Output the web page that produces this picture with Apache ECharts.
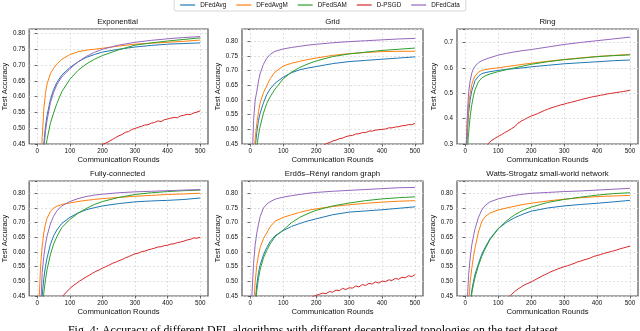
<!DOCTYPE html>
<html><head><meta charset="utf-8">
<script src="https://cdn.jsdelivr.net/npm/echarts@6/dist/echarts.min.js"></script>
<style>html,body{margin:0;padding:0;background:#fff}#c{width:640px;height:331px}</style>
</head><body><div id="c"></div><script>
const methods = ['DFedAvg','DFedAvgM','DFedSAM','D-PSGD','DFedCata'];
const colors = ['#1f77b4','#ff7f0e','#2ca02c','#d62728','#9467bd'];
const topologies = ['Exponential','Grid','Ring','Fully-connected','Erdős–Rényi random graph','Watts-Strogatz small-world network'];
const xTickValues = [0,100,200,300,400,500];
const rounds = [0,5,10,15,20,25,30,40,50,60,75,100,125,150,175,200,250,300,350,400,450,500];
const redRounds = [0,10,20,30,40,50,60,70,80,90,100,110,120,130,140,150,160,170,180,190,200,210,220,230,240,250,260,270,280,290,300,310,320,330,340,350,360,370,380,390,400,410,420,430,440,450,460,470,480,490,500];

// Exponential
const expAvg  = [0.10,0.20,0.30,0.39,0.45,0.505,0.54,0.59,0.622,0.645,0.668,0.692,0.71,0.724,0.733,0.741,0.750,0.757,0.762,0.766,0.768,0.770];
const expAvgM = [0.10,0.22,0.36,0.47,0.56,0.61,0.64,0.672,0.69,0.703,0.718,0.733,0.742,0.747,0.750,0.753,0.760,0.766,0.769,0.772,0.775,0.779];
const expSAM  = [0.10,0.16,0.23,0.31,0.38,0.43,0.465,0.515,0.548,0.578,0.615,0.655,0.683,0.703,0.718,0.730,0.748,0.763,0.770,0.776,0.781,0.786];
const expPSGD = [0.10,0.14,0.18,0.21,0.24,0.26,0.28,0.30,0.32,0.335,0.35,0.362,0.375,0.387,0.398,0.408,0.417,0.426,0.434,0.442,0.449,0.453,0.458,0.464,0.470,0.476,0.480,0.487,0.489,0.496,0.499,0.503,0.506,0.510,0.511,0.516,0.518,0.523,0.521,0.527,0.529,0.532,0.534,0.533,0.539,0.541,0.544,0.543,0.548,0.551,0.555];
const expCata = [0.10,0.18,0.27,0.36,0.43,0.49,0.525,0.58,0.613,0.638,0.662,0.688,0.71,0.727,0.740,0.750,0.763,0.772,0.778,0.783,0.787,0.790];
// Grid
const gridAvg  = [0.10,0.20,0.33,0.44,0.49,0.53,0.555,0.59,0.618,0.637,0.657,0.678,0.693,0.703,0.709,0.714,0.724,0.731,0.735,0.739,0.743,0.747];
const gridAvgM = [0.10,0.22,0.38,0.47,0.52,0.56,0.59,0.625,0.648,0.672,0.695,0.716,0.725,0.732,0.738,0.743,0.752,0.758,0.762,0.765,0.766,0.766];
const gridSAM  = [0.10,0.16,0.26,0.36,0.44,0.48,0.51,0.555,0.588,0.61,0.637,0.672,0.695,0.711,0.723,0.733,0.748,0.757,0.763,0.769,0.773,0.777];
const gridPSGD = [0.10,0.13,0.16,0.19,0.215,0.24,0.26,0.28,0.30,0.315,0.33,0.345,0.358,0.37,0.381,0.391,0.40,0.409,0.417,0.425,0.432,0.438,0.445,0.451,0.455,0.460,0.463,0.468,0.470,0.475,0.478,0.479,0.484,0.485,0.489,0.489,0.494,0.494,0.497,0.499,0.500,0.501,0.505,0.505,0.508,0.509,0.512,0.513,0.516,0.516,0.520];
const gridCata = [0.10,0.35,0.53,0.60,0.63,0.665,0.69,0.722,0.742,0.755,0.766,0.774,0.779,0.783,0.787,0.790,0.795,0.799,0.802,0.805,0.808,0.810];
// Ring
const ringAvg  = [0.10,0.31,0.42,0.475,0.51,0.53,0.55,0.567,0.577,0.581,0.585,0.590,0.594,0.597,0.600,0.604,0.610,0.616,0.620,0.624,0.628,0.631];
const ringAvgM = [0.10,0.33,0.45,0.50,0.535,0.555,0.568,0.583,0.590,0.593,0.596,0.600,0.605,0.609,0.614,0.618,0.626,0.633,0.639,0.645,0.649,0.653];
const ringSAM  = [0.10,0.25,0.34,0.41,0.455,0.49,0.515,0.545,0.56,0.568,0.576,0.585,0.593,0.600,0.607,0.614,0.624,0.632,0.638,0.644,0.648,0.651];
const ringPSGD = [0.10,0.13,0.16,0.19,0.22,0.25,0.28,0.302,0.314,0.322,0.330,0.337,0.345,0.352,0.360,0.368,0.382,0.390,0.397,0.404,0.410,0.415,0.420,0.426,0.432,0.437,0.442,0.446,0.450,0.454,0.457,0.461,0.464,0.467,0.471,0.474,0.478,0.481,0.484,0.487,0.489,0.492,0.494,0.497,0.499,0.501,0.503,0.505,0.507,0.509,0.512];
const ringCata = [0.10,0.38,0.50,0.55,0.58,0.597,0.607,0.62,0.628,0.633,0.64,0.65,0.657,0.663,0.668,0.672,0.682,0.692,0.700,0.707,0.714,0.721];
// Fully-connected
const fcAvg  = [0.10,0.20,0.35,0.45,0.51,0.55,0.58,0.625,0.655,0.675,0.697,0.718,0.733,0.744,0.751,0.757,0.765,0.771,0.774,0.776,0.779,0.784];
const fcAvgM = [0.10,0.42,0.55,0.62,0.665,0.695,0.715,0.738,0.75,0.756,0.762,0.767,0.772,0.776,0.779,0.782,0.786,0.790,0.793,0.796,0.798,0.800];
const fcSAM  = [0.10,0.17,0.29,0.39,0.46,0.505,0.54,0.59,0.627,0.652,0.683,0.711,0.732,0.748,0.762,0.772,0.786,0.796,0.802,0.806,0.809,0.811];
const fcPSGD = [0.10,0.16,0.22,0.27,0.32,0.36,0.395,0.428,0.452,0.464,0.476,0.485,0.493,0.501,0.508,0.515,0.521,0.528,0.534,0.539,0.545,0.550,0.555,0.561,0.565,0.570,0.574,0.580,0.584,0.589,0.594,0.596,0.601,0.603,0.607,0.610,0.613,0.617,0.618,0.622,0.623,0.627,0.628,0.632,0.634,0.637,0.641,0.643,0.648,0.647,0.650];
const fcCata = [0.10,0.25,0.40,0.53,0.585,0.625,0.655,0.695,0.722,0.740,0.757,0.772,0.782,0.789,0.794,0.797,0.802,0.805,0.807,0.809,0.811,0.813];
// Erdős–Rényi
const erAvg  = [0.10,0.20,0.32,0.43,0.49,0.53,0.555,0.59,0.615,0.635,0.655,0.673,0.687,0.697,0.706,0.713,0.727,0.736,0.740,0.744,0.749,0.754];
const erAvgM = [0.10,0.23,0.40,0.50,0.555,0.59,0.615,0.645,0.665,0.685,0.705,0.718,0.727,0.735,0.742,0.747,0.755,0.761,0.766,0.770,0.773,0.775];
const erSAM  = [0.10,0.18,0.29,0.40,0.47,0.51,0.54,0.58,0.605,0.627,0.652,0.675,0.700,0.718,0.731,0.742,0.757,0.767,0.775,0.781,0.785,0.788];
const erPSGD = [0.10,0.14,0.17,0.20,0.225,0.25,0.27,0.29,0.31,0.325,0.34,0.355,0.368,0.38,0.392,0.403,0.415,0.425,0.438,0.448,0.452,0.456,0.460,0.458,0.465,0.463,0.470,0.468,0.476,0.472,0.478,0.477,0.484,0.481,0.489,0.486,0.493,0.491,0.498,0.494,0.501,0.499,0.505,0.503,0.510,0.507,0.514,0.512,0.519,0.516,0.523];
const erCata = [0.10,0.45,0.56,0.625,0.665,0.695,0.72,0.75,0.763,0.771,0.78,0.787,0.792,0.796,0.80,0.803,0.807,0.810,0.813,0.816,0.819,0.820];
// Watts-Strogatz
const wsAvg  = [0.10,0.19,0.30,0.42,0.47,0.50,0.525,0.56,0.592,0.615,0.645,0.68,0.701,0.717,0.729,0.739,0.750,0.757,0.762,0.766,0.771,0.776];
const wsAvgM = [0.10,0.22,0.41,0.50,0.545,0.585,0.615,0.668,0.703,0.72,0.733,0.743,0.750,0.756,0.762,0.766,0.774,0.780,0.785,0.789,0.791,0.793];
const wsSAM  = [0.10,0.17,0.28,0.40,0.46,0.49,0.515,0.553,0.585,0.61,0.642,0.679,0.706,0.727,0.742,0.753,0.769,0.779,0.787,0.794,0.799,0.802];
const wsPSGD = [0.10,0.13,0.16,0.19,0.22,0.25,0.275,0.30,0.325,0.35,0.375,0.398,0.42,0.441,0.455,0.465,0.474,0.481,0.488,0.493,0.498,0.504,0.510,0.516,0.522,0.527,0.533,0.537,0.542,0.546,0.550,0.553,0.557,0.561,0.566,0.569,0.573,0.576,0.580,0.585,0.588,0.591,0.595,0.598,0.601,0.604,0.607,0.611,0.614,0.617,0.620];
const wsCata = [0.10,0.40,0.52,0.58,0.625,0.655,0.68,0.718,0.743,0.758,0.771,0.781,0.788,0.793,0.797,0.800,0.803,0.806,0.808,0.811,0.814,0.817];

const panels = [
  [expAvg, expAvgM, expSAM, expPSGD, expCata],
  [gridAvg, gridAvgM, gridSAM, gridPSGD, gridCata],
  [ringAvg, ringAvgM, ringSAM, ringPSGD, ringCata],
  [fcAvg, fcAvgM, fcSAM, fcPSGD, fcCata],
  [erAvg, erAvgM, erSAM, erPSGD, erCata],
  [wsAvg, wsAvgM, wsSAM, wsPSGD, wsCata]
];
const yMin = [0.45,0.45,0.3,0.45,0.45,0.45];
const yMax = [0.814,0.842,0.753,0.842,0.842,0.842];
const yStep = [0.05,0.05,0.1,0.05,0.05,0.05];
const yDigits = [2,2,1,2,2,2];

const gLeft = [27,242,457,27,242,457];
const gTop = [29,29,29,181,181,181];
const gW = 181, gH = 115;
const FONT = '"Liberation Sans", Arial, sans-serif';

function zip(xs, ys){ const n=Math.min(xs.length, ys.length); const out=[]; for(let i=0;i<n;i++) out.push([xs[i], ys[i]]); return out; }

const grid=[], xAxis=[], yAxis=[], series=[], title=[];
for (let i=0;i<6;i++){
  grid.push({left:gLeft[i], top:gTop[i], width:gW, height:gH, show:true, borderColor:'#555', borderWidth:1.2, backgroundColor:'transparent', containLabel:false});
  title.push({text:topologies[i], left:gLeft[i]+gW/2, top:gTop[i]-11, textAlign:'center', padding:0,
    textStyle:{fontSize:7.8, fontWeight:'normal', color:'#111', fontFamily:FONT}});
  xAxis.push({type:'value', gridIndex:i, min:-25, max:524,
    name:'Communication Rounds', nameLocation:'middle', nameGap:12,
    nameTextStyle:{fontSize:7.7, color:'#111', fontFamily:FONT},
    axisLine:{show:false},
    axisTick:{show:true, length:2.5, customValues:xTickValues, lineStyle:{color:'#444', width:0.8}},
    axisLabel:{customValues:xTickValues, fontSize:6.3, color:'#111', margin:4, fontFamily:FONT},
    splitLine:{show:true, lineStyle:{color:'#d8d8d8', type:[2,2], width:0.8}}});
  const d = yDigits[i], st = yStep[i];
  yAxis.push({type:'value', gridIndex:i, min:yMin[i], max:yMax[i], interval:st,
    name:'Test Accuracy', nameLocation:'middle', nameGap:19,
    nameTextStyle:{fontSize:7.7, color:'#111', fontFamily:FONT},
    axisLine:{show:false},
    axisTick:{show:true, length:2.5, lineStyle:{color:'#444', width:0.8}},
    axisLabel:{fontSize:6.3, color:'#111', margin:4, fontFamily:FONT,
      formatter: v => (Math.abs(v/st - Math.round(v/st)) < 1e-6 ? v.toFixed(d) : '')},
    splitLine:{show:true, lineStyle:{color:'#d8d8d8', type:[2,2], width:0.8}}});
  panels[i].forEach((vals, k) => {
    const xs = (k === 3) ? redRounds : rounds;
    series.push({name:methods[k], type:'line', xAxisIndex:i, yAxisIndex:i, data:zip(xs, vals),
      symbol:'none', smooth:false, clip:true, lineStyle:{width:1, color:colors[k]}, itemStyle:{color:colors[k]}, z: 2+k});
  });
}

const chart = echarts.init(document.getElementById('c'), null, {renderer:'canvas'});
chart.setOption({
  animation:false,
  color: colors,
  title,
  legend:{data:methods, top:-1, left:'center', icon:'rect', itemWidth:15, itemHeight:1.2, itemGap:10,
    padding:[3,6,3,6], borderColor:'#ccc', borderWidth:0.8, borderRadius:2,
    textStyle:{fontSize:6.3, color:'#111', fontFamily:FONT}},
  grid, xAxis, yAxis, series,
  graphic:[{type:'text', left:68, top:325, silent:true,
    style:{text:'Fig. 4: Accuracy of different DFL algorithms with different decentralized topologies on the test dataset.',
      font:'11.9px "Liberation Serif", "Times New Roman", serif', fill:'#000'}}]
});
</script></body></html>
